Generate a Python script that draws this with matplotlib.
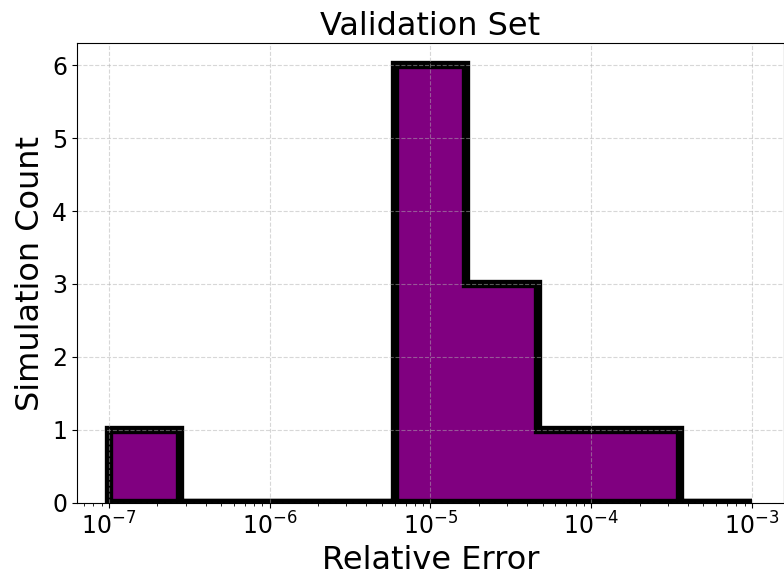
import matplotlib
matplotlib.use('Agg')
import matplotlib.pyplot as plt
import numpy as np

# histogram of relative errors, 9 log-spaced bins from 1e-7 to 1e-3
bin_edges = np.logspace(-7, -3, 10)
counts = [1, 0, 0, 0, 6, 3, 1, 1, 0]

centers = np.sqrt(bin_edges[:-1] * bin_edges[1:])

fig, ax = plt.subplots(figsize=(7.84, 5.76), dpi=100)
ax.hist(centers, bins=bin_edges, weights=counts, histtype='stepfilled',
        facecolor='purple', edgecolor='black', linewidth=6)
ax.set_xscale('log')
ax.grid(True, linestyle='--', alpha=0.5)
ax.set_title('Validation Set', fontsize=23)
ax.set_xlabel('Relative Error', fontsize=23)
ax.set_ylabel('Simulation Count', fontsize=23)
ax.tick_params(labelsize=17)
fig.subplots_adjust(left=0.098, right=1.0, bottom=0.127, top=0.925)
fig.savefig('out.png', dpi=100)
